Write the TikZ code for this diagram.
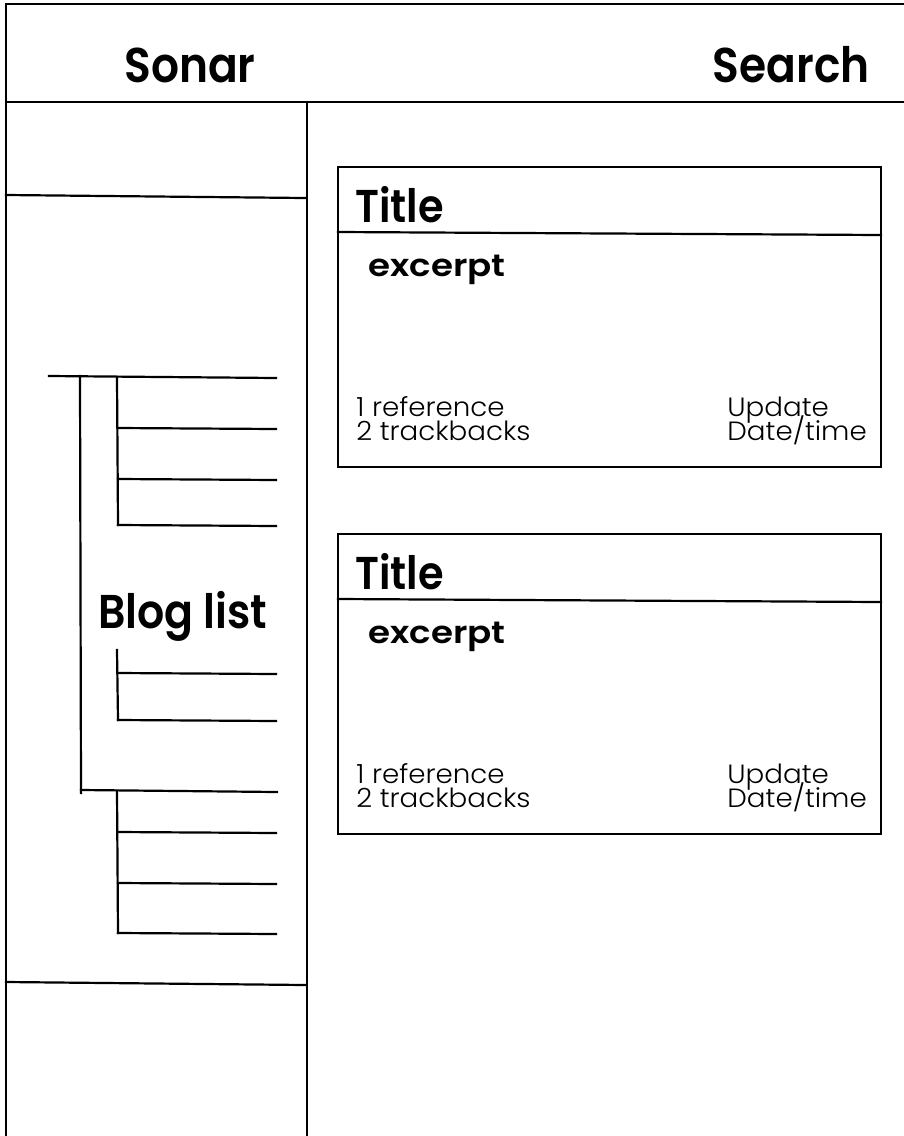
\documentclass[tikz,border=0pt]{standalone}
\usepackage{fontspec}
\setmainfont{Poppins}
\newfontfamily\hd{Poppins SemiBold}[FakeStretch=0.9]
\newfontfamily\hdw{Poppins SemiBold}[FakeStretch=1.15]
\newfontfamily\lt{Poppins Light}[FakeStretch=1.05]
\begin{document}
\begin{tikzpicture}[x=0.5pt,y=-0.5pt,
  ln/.style={line width=1.1pt,line cap=rect},
  big/.style={font=\fontsize{24.4}{28}\hd,inner sep=0pt},
  ttl/.style={font=\fontsize{23}{24}\hd,inner sep=0pt,anchor=base west},
  exc/.style={font=\fontsize{15.5}{18}\hdw,inner sep=0pt,anchor=base west},
  small/.style={font=\fontsize{13.2}{14}\lt,inner sep=0pt,anchor=base west}]
\useasboundingbox (0,0) rectangle (904,1136);
% frame
\draw[ln] (6,1136) -- (6,4) -- (904,4);
\draw[ln] (6,102) -- (904,102);
\draw[ln] (307,102) -- (307,1136);
\draw[ln] (6,195) -- (305,198);
\draw[ln] (6,982) -- (305,985);
\node[big,anchor=base west] (sonar) at (124,82) {Sonar};
\node[big,anchor=base east] (search) at (870,82) {Search};
% blog tree
\draw[ln] (49,376) -- (276,378);
\draw[ln] (80,376) -- (81,793);
\draw[ln] (117,377) -- (118,525);
\draw[ln] (118,428) -- (276,429);
\draw[ln] (118,479) -- (276,480);
\draw[ln] (118,525) -- (276,526);
\node[big,anchor=base west,font=\fontsize{23.7}{28}\hd] (blog) at (98,628) {Blog list};
\draw[ln] (117,650) -- (118,720);
\draw[ln] (118,673) -- (276,674);
\draw[ln] (118,720) -- (276,721);
\draw[ln] (81,790) -- (277,792);
\draw[ln] (117,791) -- (118,933);
\draw[ln] (118,832) -- (276,833);
\draw[ln] (118,883) -- (276,884);
\draw[ln] (118,933) -- (276,934);
% cards
\foreach \o/\n in {0/a,367/b}{
  \draw[ln] (338,167+\o) rectangle (881,467+\o);
  \draw[ln] (338,232+\o) -- (881,235+\o);
  \node[ttl] (title\n) at (355,222+\o) {Title};
  \node[exc] (exc\n) at (368,276+\o) {excerpt};
  \node[small] (ref\n) at (356,416+\o) {1 reference};
  \node[small] (trk\n) at (356,440+\o) {2 trackbacks};
  \node[small] (upd\n) at (727,416+\o) {Update};
  \node[small] (dat\n) at (727,440+\o) {Date/time};
}
\end{tikzpicture}
\end{document}
